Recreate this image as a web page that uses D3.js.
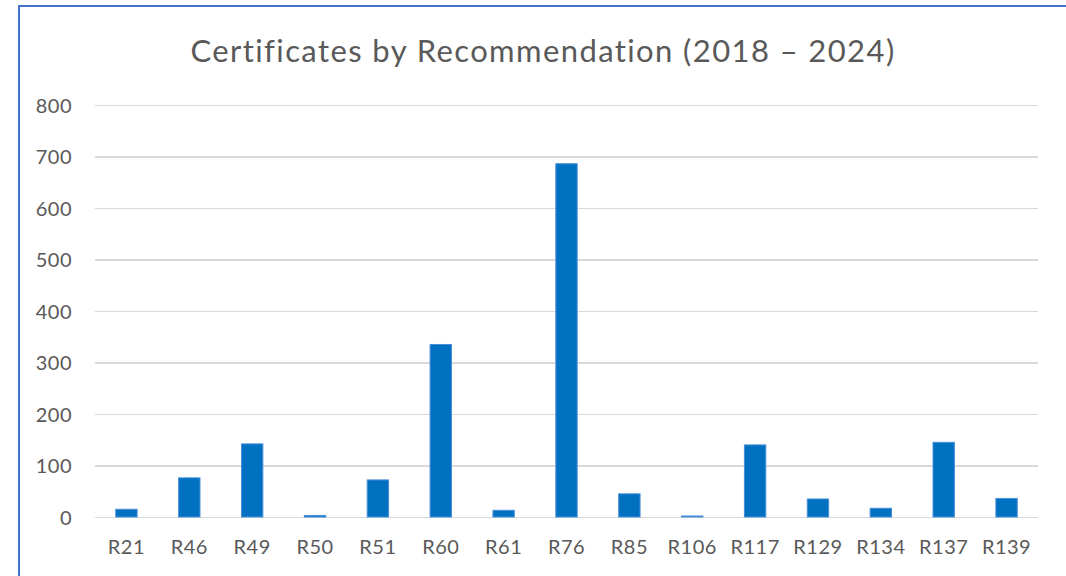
<html>
  <head>
    <script src="https://d3js.org/d3.v7.min.js"></script>
    <style>
      body { margin: 0; background: #fff; }
      .grid line { stroke: #d9d9d9; stroke-width: 1.3px; shape-rendering: crispEdges; }
      .grid path { display: none; }
      .tick text { fill: #595959; font-family: Lato, "Open Sans", sans-serif; font-size: 20px; letter-spacing: 0.5px; }
      .axis path, .axis line { display: none; }
      .bar { fill: #0070c0; stroke: #4a8fd8; stroke-width: 1px; }
      .title { fill: #595959; font-family: Lato, "Open Sans", sans-serif; font-size: 31px; letter-spacing: 1.4px; }
    </style>
  </head>
  <body>
    <script>
      var categories = ["R21", "R46", "R49", "R50", "R51", "R60", "R61", "R76", "R85", "R106", "R117", "R129", "R134", "R137", "R139"];
      var certificates = [15, 76, 142, 3, 72, 335, 13, 686, 45, 2, 140, 35, 17, 145, 36];
      var yTicks = [0, 100, 200, 300, 400, 500, 600, 700, 800];
      var chartTitle = "Certificates by Recommendation (2018 \u2013 2024)";

      var W = 1066, H = 576;
      var margin = {top: 105, right: 28, bottom: 59, left: 95};
      var width = W - margin.left - margin.right,
          height = H - margin.top - margin.bottom;

      var svg = d3.select("body").append("svg")
        .attr("width", W)
        .attr("height", H);

      // outer chart border (cropped on right / bottom)
      svg.append("rect")
        .attr("x", 19).attr("y", 6)
        .attr("width", W + 20).attr("height", H + 20)
        .attr("fill", "none")
        .attr("stroke", "#4472c4")
        .attr("stroke-width", 2);

      svg.append("text")
        .attr("class", "title")
        .attr("x", 543)
        .attr("y", 62)
        .attr("text-anchor", "middle")
        .text(chartTitle);

      var g = svg.append("g")
        .attr("transform", "translate(" + margin.left + "," + margin.top + ")");

      var x = d3.scaleBand()
        .domain(categories)
        .range([0, width])
        .paddingInner(0.66)
        .paddingOuter(0.33);

      var y = d3.scaleLinear()
        .domain([0, 800])
        .range([height, 0]);

      // gridlines
      g.append("g")
        .attr("class", "grid")
        .call(d3.axisLeft(y).tickValues(yTicks).tickSize(-width).tickFormat(""));

      // y labels
      g.append("g")
        .attr("class", "axis")
        .attr("transform", "translate(-23,0)")
        .call(d3.axisLeft(y).tickValues(yTicks).tickSize(0).tickPadding(0))
        .selectAll("text").attr("dy", "0.35em");

      g.selectAll(".bar")
        .data(certificates)
        .enter().append("rect")
        .attr("class", "bar")
        .attr("x", function(d, i) { return x(categories[i]); })
        .attr("y", function(d) { return y(d); })
        .attr("width", x.bandwidth())
        .attr("height", function(d) { return height - y(d); });

      // x labels
      g.append("g")
        .attr("class", "axis")
        .attr("transform", "translate(0," + height + ")")
        .call(d3.axisBottom(x).tickSize(0).tickPadding(23));
    </script>
  </body>
</html>
